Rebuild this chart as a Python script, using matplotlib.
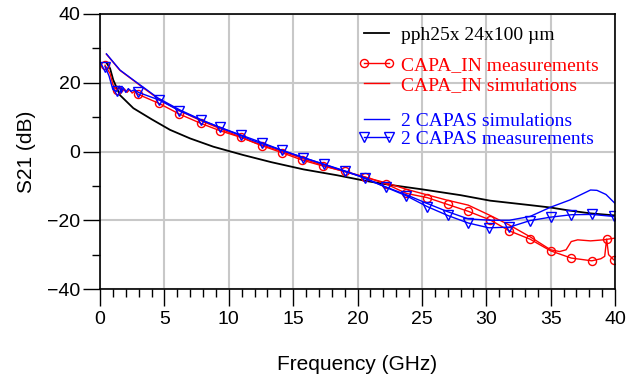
import matplotlib
matplotlib.use("Agg")
import matplotlib.pyplot as plt
from matplotlib.ticker import MultipleLocator

# ---- data (frequency in GHz, S21 in dB) ----
pph_f = [0.47, 0.78, 1.03, 1.55, 2.59, 4.0, 5.44, 7.0, 8.8, 11.1, 13.3, 15.8, 18.4,
         20.7, 22.5, 25.0, 28.0, 30.3, 33.4, 35.0, 36.5, 38.1, 40.0]
pph_db = [26.0, 24.2, 20.8, 16.4, 12.6, 9.4, 6.3, 3.8, 1.4, -1.0, -3.1, -5.2, -6.9,
          -8.6, -9.7, -11.0, -12.7, -14.3, -15.6, -16.3, -17.2, -18.0, -18.6]

capa_meas_f = [0.39, 0.78, 1.0, 1.29, 1.5, 1.7, 1.9, 2.1, 2.3, 2.5, 2.7, 2.98, 4.58,
               6.16, 7.82, 9.32, 10.95, 12.56, 14.1, 15.7, 17.3, 19.0, 20.6, 22.2,
               23.8, 25.4, 27.0, 28.6, 30.3, 31.8, 33.4, 35.0, 36.6, 38.2, 38.9,
               39.2, 39.35, 39.5, 39.9]
capa_meas_db = [25.1, 22.7, 19.5, 17.9, 18.5, 17.3, 18.2, 17.2, 18.0, 17.0, 17.6, 16.6,
                14.0, 10.9, 8.2, 6.05, 4.1, 1.7, -0.3, -2.5, -4.2, -5.8, -7.4, -9.4,
                -12.2, -13.4, -15.4, -17.4, -19.9, -23.1, -25.5, -28.9, -31.0, -31.8,
                -31.2, -30.5, -25.5, -30.0, -31.5]
capa_meas_marks = [0, 3, 11, 12, 13, 14, 15, 16, 17, 18, 19, 20, 21, 22, 23, 24, 25,
                   26, 27, 28, 29, 30, 31, 32, 33, 36, 38]

capa_sim_f = [0.5, 1.55, 2.59, 3.36, 4.53, 6.2, 8.0, 10.0, 12.0, 14.0, 16.0, 18.0,
              20.0, 22.3, 23.8, 25.4, 26.9, 28.6, 30.3, 31.8, 33.4, 35.0, 35.7, 36.2,
              36.6, 37.1, 38.1, 39.1, 40.0]
capa_sim_db = [28.3, 23.6, 20.7, 18.5, 15.3, 11.8, 8.7, 5.6, 2.6, 0.2, -2.4, -4.8,
               -6.9, -9.2, -11.0, -12.6, -14.1, -15.6, -18.6, -21.4, -24.8, -28.6,
               -29.1, -28.6, -26.2, -25.7, -26.0, -25.7, -25.2]

caps2_sim_f = [0.5, 1.55, 2.59, 3.36, 4.53, 6.2, 8.0, 10.0, 12.0, 14.0, 16.0, 18.0,
               20.0, 21.7, 23.8, 25.4, 27.0, 28.6, 30.3, 31.8, 33.4, 35.0, 36.5, 38.1,
               38.6, 39.3, 40.0]
caps2_sim_db = [28.4, 23.7, 20.8, 18.7, 15.5, 12.1, 9.0, 6.0, 3.0, 0.5, -2.0, -4.5,
                -7.0, -9.6, -12.6, -15.1, -17.5, -19.6, -20.0, -20.0, -18.9, -16.2,
                -14.1, -11.2, -11.3, -12.5, -15.1]

caps2_meas_f = [0.39, 0.7, 1.0, 1.29, 1.5, 1.65, 1.8, 2.0, 2.2, 2.4, 2.7, 2.98, 4.58,
                6.16, 7.82, 9.32, 10.95, 12.56, 14.1, 15.8, 17.4, 19.0, 20.6, 22.2,
                23.8, 25.4, 27.0, 28.6, 30.2, 31.8, 33.4, 35.0, 36.6, 38.2, 39.9]
caps2_meas_db = [24.7, 22.0, 18.0, 17.5, 19.0, 17.0, 18.6, 17.2, 18.3, 17.5, 18.0, 17.2,
                 15.0, 11.9, 9.2, 7.0, 4.8, 2.6, 0.4, -1.8, -3.7, -5.6, -7.7, -10.4,
                 -12.9, -16.0, -18.6, -20.8, -22.2, -22.0, -20.1, -19.1, -18.4, -18.3,
                 -18.9]
caps2_meas_marks = [0, 3] + list(range(11, 35))

labels = ["pph25x 24x100 \u00b5m", "CAPA_IN measurements", "CAPA_IN simulations",
          "2 CAPAS simulations", "2 CAPAS measurements"]
label_colors = ["black", "#ff0000", "#ff0000", "#0000ff", "#0000ff"]
legend_rows_y = [0.922, 0.815, 0.742, 0.611, 0.545]
x_ticks = [0, 5, 10, 15, 20, 25, 30, 35, 40]
y_ticks = [-40, -20, 0, 20, 40]

# ---- figure ----
fig = plt.figure(figsize=(6.28, 3.83), dpi=100)
ax = fig.add_axes([100 / 628, 1 - 289 / 383, 515 / 628, 275 / 383])

l0, = ax.plot(pph_f, pph_db, color="black", lw=1.3)
l1, = ax.plot(capa_meas_f, capa_meas_db, color="#ff0000", lw=1.0, marker="o",
              markersize=5.8, markerfacecolor="none", markeredgewidth=1.0,
              markevery=capa_meas_marks)
l2, = ax.plot(capa_sim_f, capa_sim_db, color="#ff0000", lw=1.0)
l3, = ax.plot(caps2_sim_f, caps2_sim_db, color="#0000ff", lw=1.0)
l4, = ax.plot(caps2_meas_f, caps2_meas_db, color="#0000ff", lw=1.0, marker="v",
              markersize=6.8, markerfacecolor="none", markeredgewidth=1.0,
              markevery=caps2_meas_marks)

ax.set_xlim(0, 40)
ax.set_ylim(-40, 40)
ax.set_xticks(x_ticks)
ax.set_yticks(y_ticks)
ax.xaxis.set_minor_locator(MultipleLocator(1))
ax.yaxis.set_minor_locator(MultipleLocator(10))
ax.grid(True, which="major", color="#c8c8c8", lw=1.5)
ax.set_axisbelow(True)
for s in ax.spines.values():
    s.set_color("black")
    s.set_linewidth(1.2)
ax.tick_params(which="major", direction="out", length=12.5, width=1.0, labelsize=14)
ax.tick_params(axis="x", which="major", pad=3.5)
ax.tick_params(axis="y", which="major", pad=1.5)
ax.tick_params(which="minor", direction="out", length=5.5, width=1.0)
for lab in ax.get_xticklabels() + ax.get_yticklabels():
    lab.set_family("Liberation Sans")

ax.set_xlabel("Frequency (GHz)", fontsize=15, family="Liberation Sans", labelpad=19)
ax.set_ylabel("S21 (dB)", fontsize=15, family="Liberation Sans", labelpad=8)

handles = [l0, l1, l2, l3, l4]
legends = []
for h, lab, col, yy in zip(handles, labels, label_colors, legend_rows_y):
    lg = ax.legend([h], [lab], loc="center left", bbox_to_anchor=(0.502, yy),
                   frameon=False, numpoints=2,
                   prop={"family": "Liberation Serif", "size": 14},
                   handlelength=1.85, handletextpad=0.35,
                   borderaxespad=0.0, borderpad=0.0)
    lg.get_texts()[0].set_color(col)
    legends.append(lg)
for lg in legends[:-1]:
    ax.add_artist(lg)

fig.savefig("out.png", dpi=100)
